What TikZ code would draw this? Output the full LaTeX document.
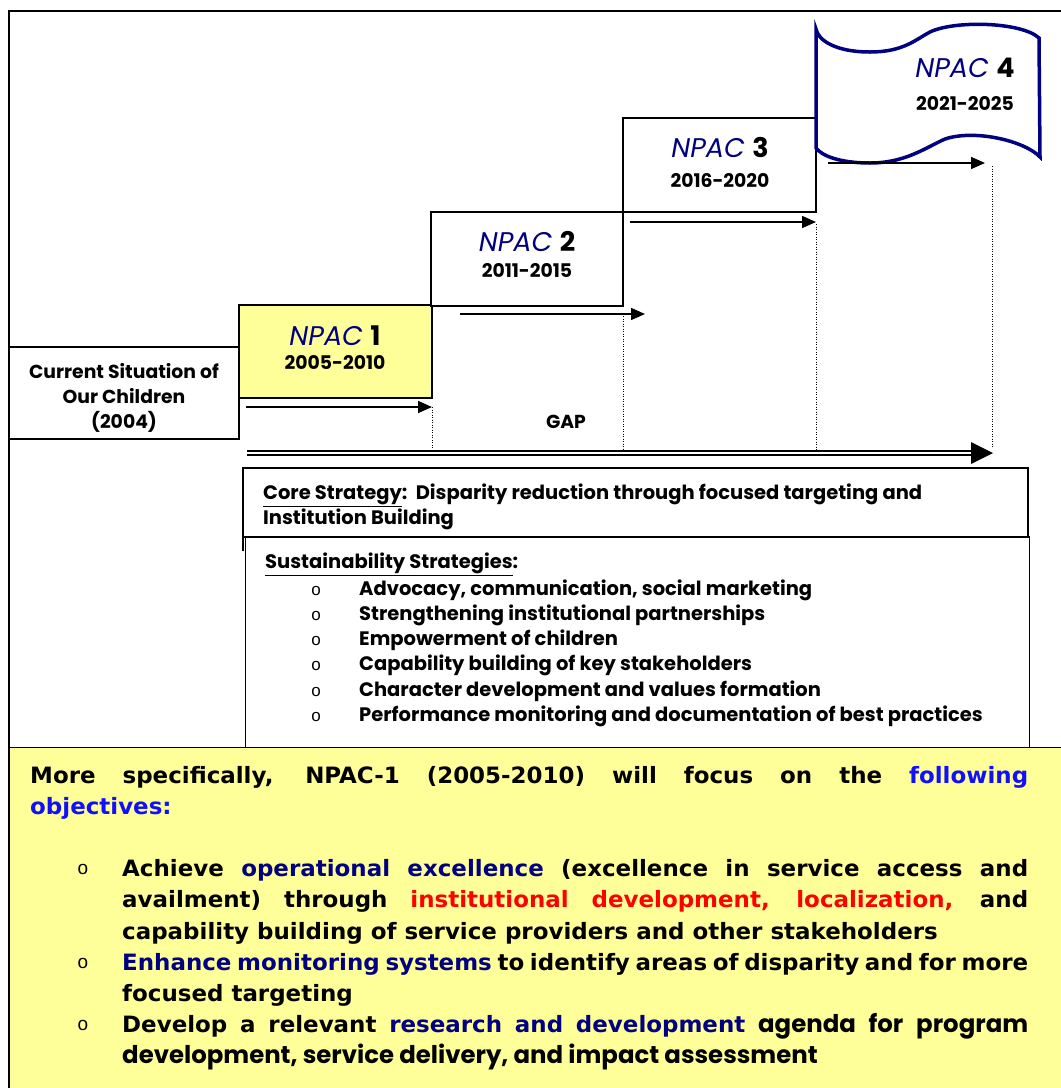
\documentclass[tikz,border=0pt]{standalone}
\usepackage{fontspec}
\usetikzlibrary{arrows.meta}
\newfontfamily\tah[FakeStretch=1.02]{DejaVu Sans}
\newfontfamily\bul{Liberation Sans}
\newfontfamily\cg{Poppins}
\definecolor{yel}{HTML}{FFFF99}
\definecolor{navyc}{HTML}{000080}
\definecolor{fblue}{HTML}{1010FF}
\definecolor{redc}{HTML}{FF0000}
\newcommand\npac[1]{{\cg\itshape\fontsize{27}{30}\selectfont\textcolor{navyc}{NPAC}}\hspace{4pt} {\cg\bfseries\fontsize{27}{30}\selectfont #1}}
\newcommand\cgb{\cg\bfseries\fontsize{24.4}{28}\selectfont}
\begin{document}
\begin{tikzpicture}[x=1pt,y=-1pt,
  frame/.style={line width=1.5pt},
  boxst/.style={draw, line width=1.6pt, fill=white, inner sep=0pt, rectangle},
  lbl/.style={inner sep=0pt, anchor=base},
  lblw/.style={inner sep=0pt, anchor=base west},
  arr/.style={line width=1.5pt, -{Triangle[length=14pt,width=12pt]}},
  dots/.style={line width=1pt, dash pattern=on 1pt off 1.5pt},
  cgt/.style={font=\cg\bfseries\fontsize{18.8}{22}\selectfont},
  stt/.style={font=\cg\bfseries\fontsize{19.5}{22}\selectfont},
  yt/.style={font=\tah\bfseries\fontsize{22.5}{31}\selectfont},
  bt/.style={font=\bul\fontsize{19}{22}\selectfont},
  bts/.style={font=\bul\fontsize{17}{20}\selectfont},
]
\useasboundingbox (0,0) rectangle (1061,1088);
% outer frame
\draw[frame] (9,1090) -- (9,11) -- (1063,11);

% boxes
\node[boxst, minimum width=230pt, minimum height=92pt] (cur) at (124,393) {};
\node[boxst, fill=yel, minimum width=193pt, minimum height=93pt] (n1) at (335.5,351.5) {};
\node[boxst, minimum width=192pt, minimum height=94pt] (n2) at (527,259) {};
\node[boxst, minimum width=193pt, minimum height=94pt] (n3) at (719.5,165) {};

% flag NPAC 4
\draw[line width=3.5pt, draw=navyc, fill=white]
  (816,29) .. controls (818,40) and (835,52) .. (870,52)
  .. controls (903,52) and (915,40) .. (930,32)
  .. controls (955,20) and (1022,22) .. (1039,38)
  -- (1040,157)
  .. controls (1025,141) and (975,129) .. (945,139)
  .. controls (925,148) and (905,163) .. (870,163)
  .. controls (840,163) and (822,156) .. (816,148) -- cycle;

% labels
\node[lbl, cgt] (c1) at (124,378) {Current Situation of};
\node[lbl, cgt] (c2) at (124,403) {Our Children};
\node[lbl, cgt] (c3) at (124,428) {(2004)};

\node[lbl] (n1a) at (335,345) {\npac{1}};
\node[lbl, cgt] (n1b) at (335,369) {2005-2010};
\node[lbl] (n2a) at (527,251) {\npac{2}};
\node[lbl, cgt] (n2b) at (527,277) {2011-2015};
\node[lbl] (n3a) at (720,157) {\npac{3}};
\node[lbl, cgt] (n3b) at (720,187) {2016-2020};
\node[lbl] (n4a) at (965,77) {\npac{4}};
\node[lbl, cgt] (n4b) at (965,110) {2021-2025};

\node[lbl, cgt] (gap) at (566,428) {GAP};

% arrows
\coordinate (a1s) at (246,407); \coordinate (a1e) at (432,407);
\coordinate (a2s) at (460,314); \coordinate (a2e) at (645,314);
\coordinate (a3s) at (630,222); \coordinate (a3e) at (816,222);
\coordinate (a4s) at (828,163); \coordinate (a4e) at (985,163);
\draw[arr] (a1s) -- (a1e);
\draw[arr] (a2s) -- (a2e);
\draw[arr] (a3s) -- (a3e);
\draw[arr] (a4s) -- (a4e);

\coordinate (d1a) at (432,407); \coordinate (d1b) at (432,450);
\coordinate (d2a) at (623,316); \coordinate (d2b) at (623,450);
\coordinate (d3a) at (816,224); \coordinate (d3b) at (816,450);
\coordinate (d4a) at (992,166); \coordinate (d4b) at (992,448);
\draw[dots] (d1a) -- (d1b);
\draw[dots] (d2a) -- (d2b);
\draw[dots] (d3a) -- (d3b);
\draw[dots] (d4a) -- (d4b);

% double arrow
\coordinate (g1s) at (247,451); \coordinate (g1e) at (975,451);
\coordinate (g2s) at (247,455); \coordinate (g2e) at (975,455);
\coordinate (gt) at (993,453);
\draw[line width=1.6pt] (g1s) -- (g1e);
\draw[line width=1.6pt] (g2s) -- (g2e);
\fill (971,442) -- (gt) -- (971,464) -- cycle;

% strategy boxes
\draw[line width=1.6pt] (243,551) -- (243,468) -- (1028,468) -- (1028,537) -- (243,537);
\node[boxst, minimum width=784pt, minimum height=211pt] (sus) at (637.5,642.5) {};
\node[lblw, stt] (cs1) at (263,499) {\underline{Core Strategy}:\ \ Disparity reduction through focused targeting and};
\node[lblw, stt] (cs2) at (263,524) {Institution Building};
\node[lblw, stt] (ss) at (265,568) {\underline{Sustainability Strategies}:};
\foreach \yy/\tt [count=\i] in {595/{Advocacy, communication, social marketing},
  620/{Strengthening institutional partnerships},
  645/{Empowerment of children},
  670/{Capability building of key stakeholders},
  696/{Character development and values formation},
  721/{Performance monitoring and documentation of best practices}}{
  \node[lbl, bts] (sb\i) at (316,\yy) {o};
  \node[lblw, stt] (si\i) at (359,\yy) {\tt};
}

% yellow box
\node[draw, line width=1.6pt, fill=yel, minimum width=1056pt, minimum height=345pt, inner sep=0pt] (yb) at (537,920) {};
\node[lblw, yt] (y1) at (30,783) {\makebox[998pt][s]{More specifically, NPAC-1 (2005-2010) will focus on the \textcolor{fblue}{following}}};
\node[lblw, yt] (y2) at (30,814) {\textcolor{fblue}{objectives:}};
\node[lbl, bt] (yb1) at (83,874) {o};
\node[lbl, bt] (yb2) at (83,968) {o};
\node[lbl, bt] (yb3) at (83,1030) {o};
\node[lblw, yt] (y3) at (122,876) {\makebox[906pt][s]{Achieve \textcolor{navyc}{operational excellence} (excellence in service access and}};
\node[lblw, yt] (y4) at (122,907) {\makebox[906pt][s]{availment) through \textcolor{redc}{institutional development, localization,} and}};
\node[lblw, yt] (y5) at (122,939) {capability building of service providers and other stakeholders};
\node[lblw, yt] (y6) at (122,970) {\makebox[906pt][s]{\textcolor{navyc}{Enhance monitoring systems} to identify areas of disparity and for more}};
\node[lblw, yt] (y7) at (122,1001) {focused targeting};
\node[lblw, yt] (y8) at (122,1032) {\makebox[906pt][s]{Develop a relevant \textcolor{navyc}{research and development} {\cgb agenda} {\cgb for} {\cgb program}}};
\node[lblw, font=\cgb] (y9) at (122,1063) {development, service delivery, and impact assessment};
\end{tikzpicture}
\end{document}
